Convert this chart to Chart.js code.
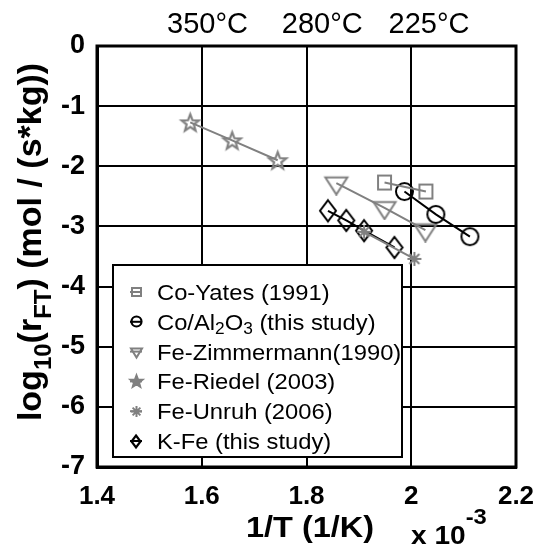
<!DOCTYPE html>
<html><head><meta charset="utf-8">
<script src="https://cdn.jsdelivr.net/npm/chart.js@4"></script>
<style>html,body{margin:0;padding:0;background:#fff}#wrap{width:541px;height:546px;position:relative}</style>
</head><body><div id="wrap"><canvas id="c"></canvas></div>
<script>
// ---- data ----
const seriesNames = ['Co-Yates (1991)', 'Co/Al2O3 (this study)', 'Fe-Zimmermann(1990)', 'Fe-Riedel (2003)', 'Fe-Unruh (2006)', 'K-Fe (this study)'];
const coYatesX = [1.949, 2.028];
const coYatesY = [-2.27, -2.42];
const coAlX = [1.987, 2.047, 2.112];
const coAlY = [-2.42, -2.80, -3.17];
const feZimX = [1.857, 1.949, 2.027];
const feZimY = [-2.28, -2.69, -3.06];
const feRiedelX = [1.578, 1.658, 1.745];
const feRiedelY = [-1.27, -1.57, -1.90];
const feUnruhX = [1.910, 2.006];
const feUnruhY = [-3.09, -3.54];
const kFeX = [1.841, 1.876, 1.910, 1.968];
const kFeY = [-2.74, -2.90, -3.07, -3.35];
const xTickValues = [1.4, 1.6, 1.8, 2.0, 2.2];
const xTickLabels = ['1.4', '1.6', '1.8', '2', '2.2'];
const yTickValues = [0, -1, -2, -3, -4, -5, -6, -7];
const yTickLabels = ['0', '-1', '-2', '-3', '-4', '-5', '-6', '-7'];
const topLabels = ['350\u00B0C', '280\u00B0C', '225\u00B0C'];
const topLabelX = [1.611, 1.830, 2.034];

const GRAY = '#808080', BLACK = '#000000';
const FONT = '"Liberation Sans", Arial, sans-serif';

// ---- marker images ----
function markerCanvas(type, color, w, h, lw) {
  const pad = lw + 2;
  const c = document.createElement('canvas');
  c.width = Math.ceil(w + 2 * pad); c.height = Math.ceil(h + 2 * pad);
  const g = c.getContext('2d');
  const cx = c.width / 2, cy = c.height / 2;
  g.strokeStyle = color; g.fillStyle = color; g.lineWidth = lw; g.lineJoin = 'miter';
  g.beginPath();
  if (type === 'square') {
    g.rect(cx - w / 2, cy - h / 2, w, h);
  } else if (type === 'circle') {
    g.ellipse(cx, cy, w / 2, h / 2, 0, 0, Math.PI * 2);
  } else if (type === 'tridown') {
    g.moveTo(cx - w / 2, cy - h / 3); g.lineTo(cx + w / 2, cy - h / 3); g.lineTo(cx, cy + 2 * h / 3); g.closePath();
  } else if (type === 'diamond') {
    g.moveTo(cx, cy - h / 2); g.lineTo(cx + w / 2, cy); g.lineTo(cx, cy + h / 2); g.lineTo(cx - w / 2, cy); g.closePath();
  } else if (type === 'star' || type === 'starfill') {
    const R = w / 2, r = R * 0.42;
    for (let i = 0; i < 10; i++) {
      const ang = -Math.PI / 2 + i * Math.PI / 5;
      const rr = i % 2 === 0 ? R : r;
      const px = cx + rr * Math.cos(ang), py = cy + 0.05 * h + rr * Math.sin(ang);
      if (i === 0) g.moveTo(px, py); else g.lineTo(px, py);
    }
    g.closePath();
    if (type === 'starfill') g.fill();
  } else if (type === 'asterisk') {
    const R = w / 2;
    for (let i = 0; i < 4; i++) {
      const ang = i * Math.PI / 4;
      g.moveTo(cx - R * Math.cos(ang), cy - R * Math.sin(ang));
      g.lineTo(cx + R * Math.cos(ang), cy + R * Math.sin(ang));
    }
  }
  g.stroke();
  return c;
}
const mk = {
  square: markerCanvas('square', GRAY, 13, 14, 2),
  circle: markerCanvas('circle', BLACK, 17, 17, 2),
  tridown: markerCanvas('tridown', GRAY, 22, 17, 2),
  star: markerCanvas('star', GRAY, 18, 17, 2.2),
  asterisk: markerCanvas('asterisk', GRAY, 14, 14, 2),
  diamond: markerCanvas('diamond', BLACK, 16, 21, 2)
};
const lmk = {
  square: markerCanvas('square', GRAY, 9, 8, 2),
  circle: markerCanvas('circle', BLACK, 10, 10, 2.2),
  tridown: markerCanvas('tridown', GRAY, 11, 9, 2),
  star: markerCanvas('starfill', GRAY, 14, 13, 1.5),
  asterisk: markerCanvas('asterisk', GRAY, 11, 11, 2),
  diamond: markerCanvas('diamond', BLACK, 9, 12, 2.2)
};

function pts(xs, ys) { return xs.map((v, i) => ({ x: v, y: ys[i] })); }
const seriesDefs = [
  { x: coYatesX, y: coYatesY, color: GRAY, m: 'square' },
  { x: coAlX, y: coAlY, color: BLACK, m: 'circle' },
  { x: feZimX, y: feZimY, color: GRAY, m: 'tridown' },
  { x: feRiedelX, y: feRiedelY, color: GRAY, m: 'star' },
  { x: feUnruhX, y: feUnruhY, color: GRAY, m: 'asterisk' },
  { x: kFeX, y: kFeY, color: BLACK, m: 'diamond' }
];
const datasets = seriesDefs.map((s, i) => ({
  label: seriesNames[i],
  data: pts(s.x, s.y),
  showLine: true,
  borderColor: s.color,
  backgroundColor: s.color,
  borderWidth: 2,
  tension: 0,
  pointStyle: mk[s.m],
  pointRadius: 8,
  pointHoverRadius: 8
}));

// text helper: runs of text with optional baseline shift, horizontal stretch sx
function drawRuns(ctx, runs, x, y, align, sx) {
  sx = sx || 1;
  let total = 0;
  runs.forEach(r => { ctx.font = (r.bold ? 'bold ' : '') + r.size + 'px ' + FONT; r.w = ctx.measureText(r.t).width * sx; total += r.w; });
  let cx = align === 'center' ? x - total / 2 : (align === 'right' ? x - total : x);
  ctx.textAlign = 'left'; ctx.textBaseline = 'alphabetic';
  runs.forEach(r => {
    ctx.font = (r.bold ? 'bold ' : '') + r.size + 'px ' + FONT;
    ctx.save(); ctx.translate(cx, y + (r.dy || 0)); ctx.scale(sx, 1); ctx.fillText(r.t, 0, 0); ctx.restore();
    cx += r.w;
  });
}

const decor = {
  id: 'decor',
  afterDraw(chart) {
    const { ctx, chartArea: a, scales } = chart;
    const xs = scales.x;
    ctx.save();
    ctx.fillStyle = '#000';
    // frame
    ctx.strokeStyle = '#000'; ctx.lineWidth = 3;
    ctx.strokeRect(a.left, a.top, a.right - a.left, a.bottom - a.top);
    // top temperature labels
    topLabels.forEach((t, i) => drawRuns(ctx, [{ t, size: 29 }], xs.getPixelForValue(topLabelX[i]), 33, 'center', 1));
    // x axis title
    drawRuns(ctx, [{ t: '1/T (1/K)', size: 29, bold: true }], 310, 537, 'center', 1.12);
    // exponent
    drawRuns(ctx, [{ t: 'x 10', size: 26, bold: true }, { t: '-3', size: 22, bold: true, dy: -20 }], 411, 544, 'left', 1.08);
    // y axis title (rotated)
    ctx.save();
    ctx.translate(41, 242);
    ctx.rotate(-Math.PI / 2);
    drawRuns(ctx, [
      { t: 'log', size: 34, bold: true },
      { t: '10', size: 24, bold: true, dy: 10 },
      { t: '(r', size: 34, bold: true },
      { t: 'FT', size: 24, bold: true, dy: 10 },
      { t: ') (mol / (s*kg))', size: 34, bold: true }
    ], 0, 0, 'center', 1);
    ctx.restore();
    // legend
    const L = { x: 113, y: 265, w: 289, h: 192 };
    ctx.fillStyle = '#fff';
    ctx.fillRect(L.x, L.y, L.w, L.h);
    ctx.strokeStyle = '#000'; ctx.lineWidth = 2;
    ctx.strokeRect(L.x, L.y, L.w, L.h);
    const rowH = 29.8, y0 = 292;
    seriesDefs.forEach((s, i) => {
      const cy = y0 + i * rowH;
      ctx.strokeStyle = s.color; ctx.lineWidth = 2;
      ctx.beginPath(); ctx.moveTo(130, cy); ctx.lineTo(142, cy); ctx.stroke();
      const img = lmk[s.m];
      ctx.drawImage(img, Math.round(136 - img.width / 2), Math.round(cy - img.height / 2));
      ctx.fillStyle = '#000';
      const ty = cy + 8;
      if (i === 1) {
        drawRuns(ctx, [
          { t: 'Co/Al', size: 22 }, { t: '2', size: 16, dy: 4 }, { t: 'O', size: 22 }, { t: '3', size: 16, dy: 4 }, { t: ' (this study)', size: 22 }
        ], 157, ty, 'left', 1.08);
      } else {
        drawRuns(ctx, [{ t: seriesNames[i], size: 22 }], 157, ty, 'left', 1.08);
      }
    });
    ctx.restore();
  }
};

new Chart(document.getElementById('c'), {
  type: 'scatter',
  data: { datasets },
  options: {
    responsive: true,
    maintainAspectRatio: false,
    animation: false,
    events: [],
    layout: { padding: { left: 0, top: 46, right: 25, bottom: 0 } },
    plugins: { legend: { display: false }, tooltip: { enabled: false } },
    scales: {
      x: {
        type: 'linear', min: 1.4, max: 2.2,
        afterBuildTicks(s) { s.ticks = xTickValues.map(v => ({ value: v })); },
        afterFit(s) { s.height = 79; s.paddingLeft = 0; s.paddingRight = 0; },
        grid: { color: '#000', lineWidth: 2, drawTicks: false },
        border: { display: true, color: '#000', width: 3 },
        ticks: {
          padding: 14, color: '#000',
          font: { family: '"Liberation Sans", Arial, sans-serif', size: 26, weight: 'bold' },
          maxRotation: 0, autoSkip: false,
          callback(v) { const i = xTickValues.findIndex(t => Math.abs(t - v) < 1e-9); return i >= 0 ? xTickLabels[i] : ''; }
        }
      },
      y: {
        type: 'linear', min: -7, max: 0,
        afterBuildTicks(s) { s.ticks = yTickValues.map(v => ({ value: v })); },
        afterFit(s) { s.width = 97; s.paddingTop = 0; s.paddingBottom = 0; },
        grid: { color: '#000', lineWidth: 2, drawTicks: false },
        border: { display: true, color: '#000', width: 3 },
        ticks: {
          padding: 12, color: '#000',
          font: { family: '"Liberation Sans", Arial, sans-serif', size: 27, weight: 'bold' },
          autoSkip: false,
          callback(v) { const i = yTickValues.findIndex(t => Math.abs(t - v) < 1e-9); return i >= 0 ? yTickLabels[i] : ''; }
        }
      }
    }
  },
  plugins: [decor]
});
</script>
</body></html>
